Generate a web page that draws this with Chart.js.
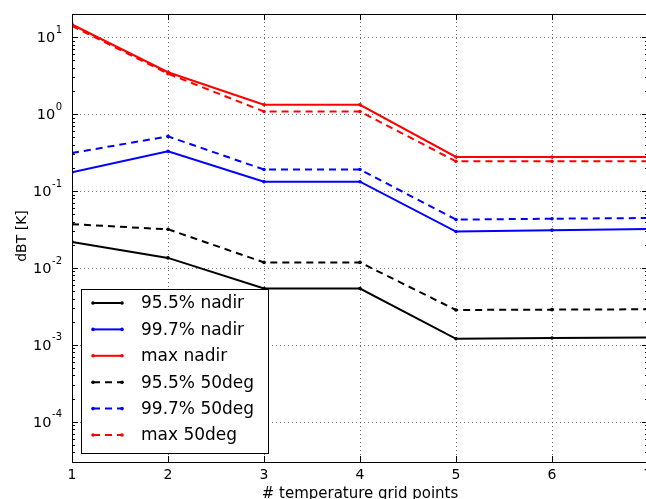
<!DOCTYPE html>
<html>
<head>
<meta charset="utf-8">
<script src="https://cdn.jsdelivr.net/npm/chart.js@4/dist/chart.umd.min.js"></script>
<style>
  html, body { margin: 0; padding: 0; overflow: hidden; background: #fff; }
  #wrap { width: 652px; height: 499px; }
</style>
</head>
<body>
<div id="wrap"><canvas id="c" width="652" height="499"></canvas></div>
<script>
// x positions (number of temperature grid points)
var gridPoints = [1, 2, 3, 4, 5, 6, 7];
var xTickValues = [1, 2, 3, 4, 5, 6, 7];
var yTickExponents = [-4, -3, -2, -1, 0, 1];

// dBT [K] values
var nadir955 = [0.0218, 0.0135, 0.0054, 0.0054, 0.00120, 0.00123, 0.00125];
var nadir997 = [0.175, 0.328, 0.132, 0.132, 0.0297, 0.031, 0.032];
var nadirMax = [14.6, 3.5, 1.32, 1.32, 0.277, 0.277, 0.277];
var deg50_955 = [0.037, 0.0318, 0.0118, 0.0118, 0.00284, 0.00287, 0.0029];
var deg50_997 = [0.312, 0.513, 0.19, 0.19, 0.0425, 0.0436, 0.0446];
var deg50_max = [14.0, 3.35, 1.08, 1.08, 0.243, 0.243, 0.243];

var seriesLabels = ['95.5% nadir', '99.7% nadir', 'max nadir',
                    '95.5% 50deg', '99.7% 50deg', 'max 50deg'];
var seriesValues = [nadir955, nadir997, nadirMax, deg50_955, deg50_997, deg50_max];
var seriesColors = ['#000000', '#0000ff', '#ff0000', '#000000', '#0000ff', '#ff0000'];
var seriesDashed = [false, false, false, true, true, true];

var FONT = '"DejaVu Sans", Verdana, sans-serif';
var DASH = [7, 5];

function toPoints(vals) {
    return vals.map(function(v, i) { return { x: gridPoints[i], y: v }; });
}

var datasets = seriesValues.map(function(vals, i) {
    return {
        label: seriesLabels[i],
        data: toPoints(vals),
        borderColor: seriesColors[i],
        backgroundColor: seriesColors[i],
        borderWidth: 2,
        borderDash: seriesDashed[i] ? DASH : [],
        pointRadius: 1.8,
        pointBorderWidth: 0,
        pointBackgroundColor: seriesColors[i],
        tension: 0,
        fill: false
    };
});

// Grid, frame, ticks (drawn under the lines)
var axesPlugin = {
    id: 'axesPlugin',
    beforeDatasetsDraw: function(chart) {
        var ctx = chart.ctx, a = chart.chartArea;
        var xs = chart.scales.x, ys = chart.scales.y;
        ctx.save();
        // dotted grid
        ctx.strokeStyle = 'rgba(0,0,0,0.55)';
        ctx.lineWidth = 1;
        ctx.setLineDash([1, 3]);
        xTickValues.forEach(function(v) {
            var px = Math.round(xs.getPixelForValue(v)) + 0.5;
            ctx.beginPath(); ctx.moveTo(px, a.top); ctx.lineTo(px, a.bottom); ctx.stroke();
        });
        yTickExponents.forEach(function(e) {
            var py = Math.round(ys.getPixelForValue(Math.pow(10, e))) + 0.5;
            ctx.beginPath(); ctx.moveTo(a.left, py); ctx.lineTo(a.right, py); ctx.stroke();
        });
        ctx.setLineDash([]);
        ctx.strokeStyle = '#000';
        // ticks pointing inward
        xTickValues.forEach(function(v) {
            var px = Math.round(xs.getPixelForValue(v)) + 0.5;
            ctx.beginPath();
            ctx.moveTo(px, a.bottom); ctx.lineTo(px, a.bottom - 6);
            ctx.moveTo(px, a.top); ctx.lineTo(px, a.top + 6);
            ctx.stroke();
        });
        for (var e = -5; e <= 1; e++) {
            for (var m = 1; m <= 9; m++) {
                var v = m * Math.pow(10, e);
                if (v < ys.min || v > ys.max) continue;
                var py = Math.round(ys.getPixelForValue(v)) + 0.5;
                var len = m === 1 ? 6 : 3;
                ctx.beginPath();
                ctx.moveTo(a.left, py); ctx.lineTo(a.left + len, py);
                ctx.moveTo(a.right, py); ctx.lineTo(a.right - len, py);
                ctx.stroke();
            }
        }
        ctx.restore();
    },
    afterDatasetsDraw: function(chart) {
        var ctx = chart.ctx, a = chart.chartArea;
        var xs = chart.scales.x, ys = chart.scales.y;
        ctx.save();
        // frame
        ctx.strokeStyle = '#000';
        ctx.lineWidth = 1;
        ctx.strokeRect(Math.round(a.left) + 0.5, Math.round(a.top) + 0.5,
                       Math.round(a.right - a.left), Math.round(a.bottom - a.top));
        // x tick labels
        ctx.fillStyle = '#000';
        ctx.font = '14px ' + FONT;
        ctx.textAlign = 'center';
        ctx.textBaseline = 'top';
        xTickValues.forEach(function(v) {
            ctx.fillText(String(v), xs.getPixelForValue(v), a.bottom + 6);
        });
        // y tick labels: 10 with superscript exponent
        ctx.textBaseline = 'middle';
        yTickExponents.forEach(function(e) {
            var py = ys.getPixelForValue(Math.pow(10, e));
            var exp = String(e);
            ctx.font = '10px ' + FONT;
            var ew = ctx.measureText(exp).width;
            var right = a.left - 10;
            ctx.textAlign = 'right';
            ctx.fillText(exp, right, py - 7);
            ctx.font = '14.5px ' + FONT;
            ctx.fillText('10', right - ew - 0.5, py + 1);
        });
        // axis titles
        ctx.font = '15px ' + FONT;
        ctx.textAlign = 'center';
        ctx.textBaseline = 'top';
        ctx.fillText('# temperature grid points', (a.left + a.right) / 2, 487);
        ctx.save();
        ctx.font = '14px ' + FONT;
        ctx.translate(22, (a.top + a.bottom) / 2 - 2);
        ctx.rotate(-Math.PI / 2);
        ctx.textBaseline = 'middle';
        ctx.fillText('dBT [K]', 0, 0);
        ctx.restore();
        ctx.restore();
    }
};

// Boxed legend in the lower left of the plot
var legendPlugin = {
    id: 'boxLegend',
    afterDraw: function(chart) {
        var ctx = chart.ctx;
        var box = { left: 81, top: 289, right: 268, bottom: 453 };
        ctx.save();
        ctx.fillStyle = '#fff';
        ctx.fillRect(box.left, box.top, box.right - box.left, box.bottom - box.top);
        ctx.strokeStyle = '#000';
        ctx.lineWidth = 1;
        ctx.strokeRect(box.left + 0.5, box.top + 0.5, box.right - box.left, box.bottom - box.top);
        ctx.font = '17px ' + FONT;
        ctx.textAlign = 'left';
        ctx.textBaseline = 'middle';
        chart.data.datasets.forEach(function(ds, i) {
            var y = 303 + i * 26.4;
            ctx.strokeStyle = ds.borderColor;
            ctx.lineWidth = 2;
            ctx.setLineDash(ds.borderDash || []);
            ctx.beginPath(); ctx.moveTo(93, y); ctx.lineTo(122, y); ctx.stroke();
            ctx.setLineDash([]);
            ctx.fillStyle = ds.borderColor;
            [93, 122].forEach(function(px) {
                ctx.beginPath(); ctx.arc(px, y, 1.8, 0, Math.PI * 2); ctx.fill();
            });
            ctx.fillStyle = '#000';
            ctx.fillText(ds.label, 141, y + 1);
        });
        ctx.restore();
    }
};

new Chart(document.getElementById('c'), {
    type: 'line',
    data: { datasets: datasets },
    options: {
        responsive: false,
        animation: false,
        layout: { padding: { top: 14, right: 4, left: 0, bottom: 0 } },
        plugins: { legend: { display: false }, tooltip: { enabled: false } },
        scales: {
            x: {
                type: 'linear',
                min: 1,
                max: 7,
                ticks: { display: false },
                grid: { display: false },
                border: { display: false },
                afterFit: function(s) { s.height = 37; }
            },
            y: {
                type: 'logarithmic',
                min: 3e-5,
                max: 20,
                ticks: { display: false },
                grid: { display: false },
                border: { display: false },
                afterFit: function(s) { s.width = 72; }
            }
        }
    },
    plugins: [axesPlugin, legendPlugin]
});
</script>
</body>
</html>
